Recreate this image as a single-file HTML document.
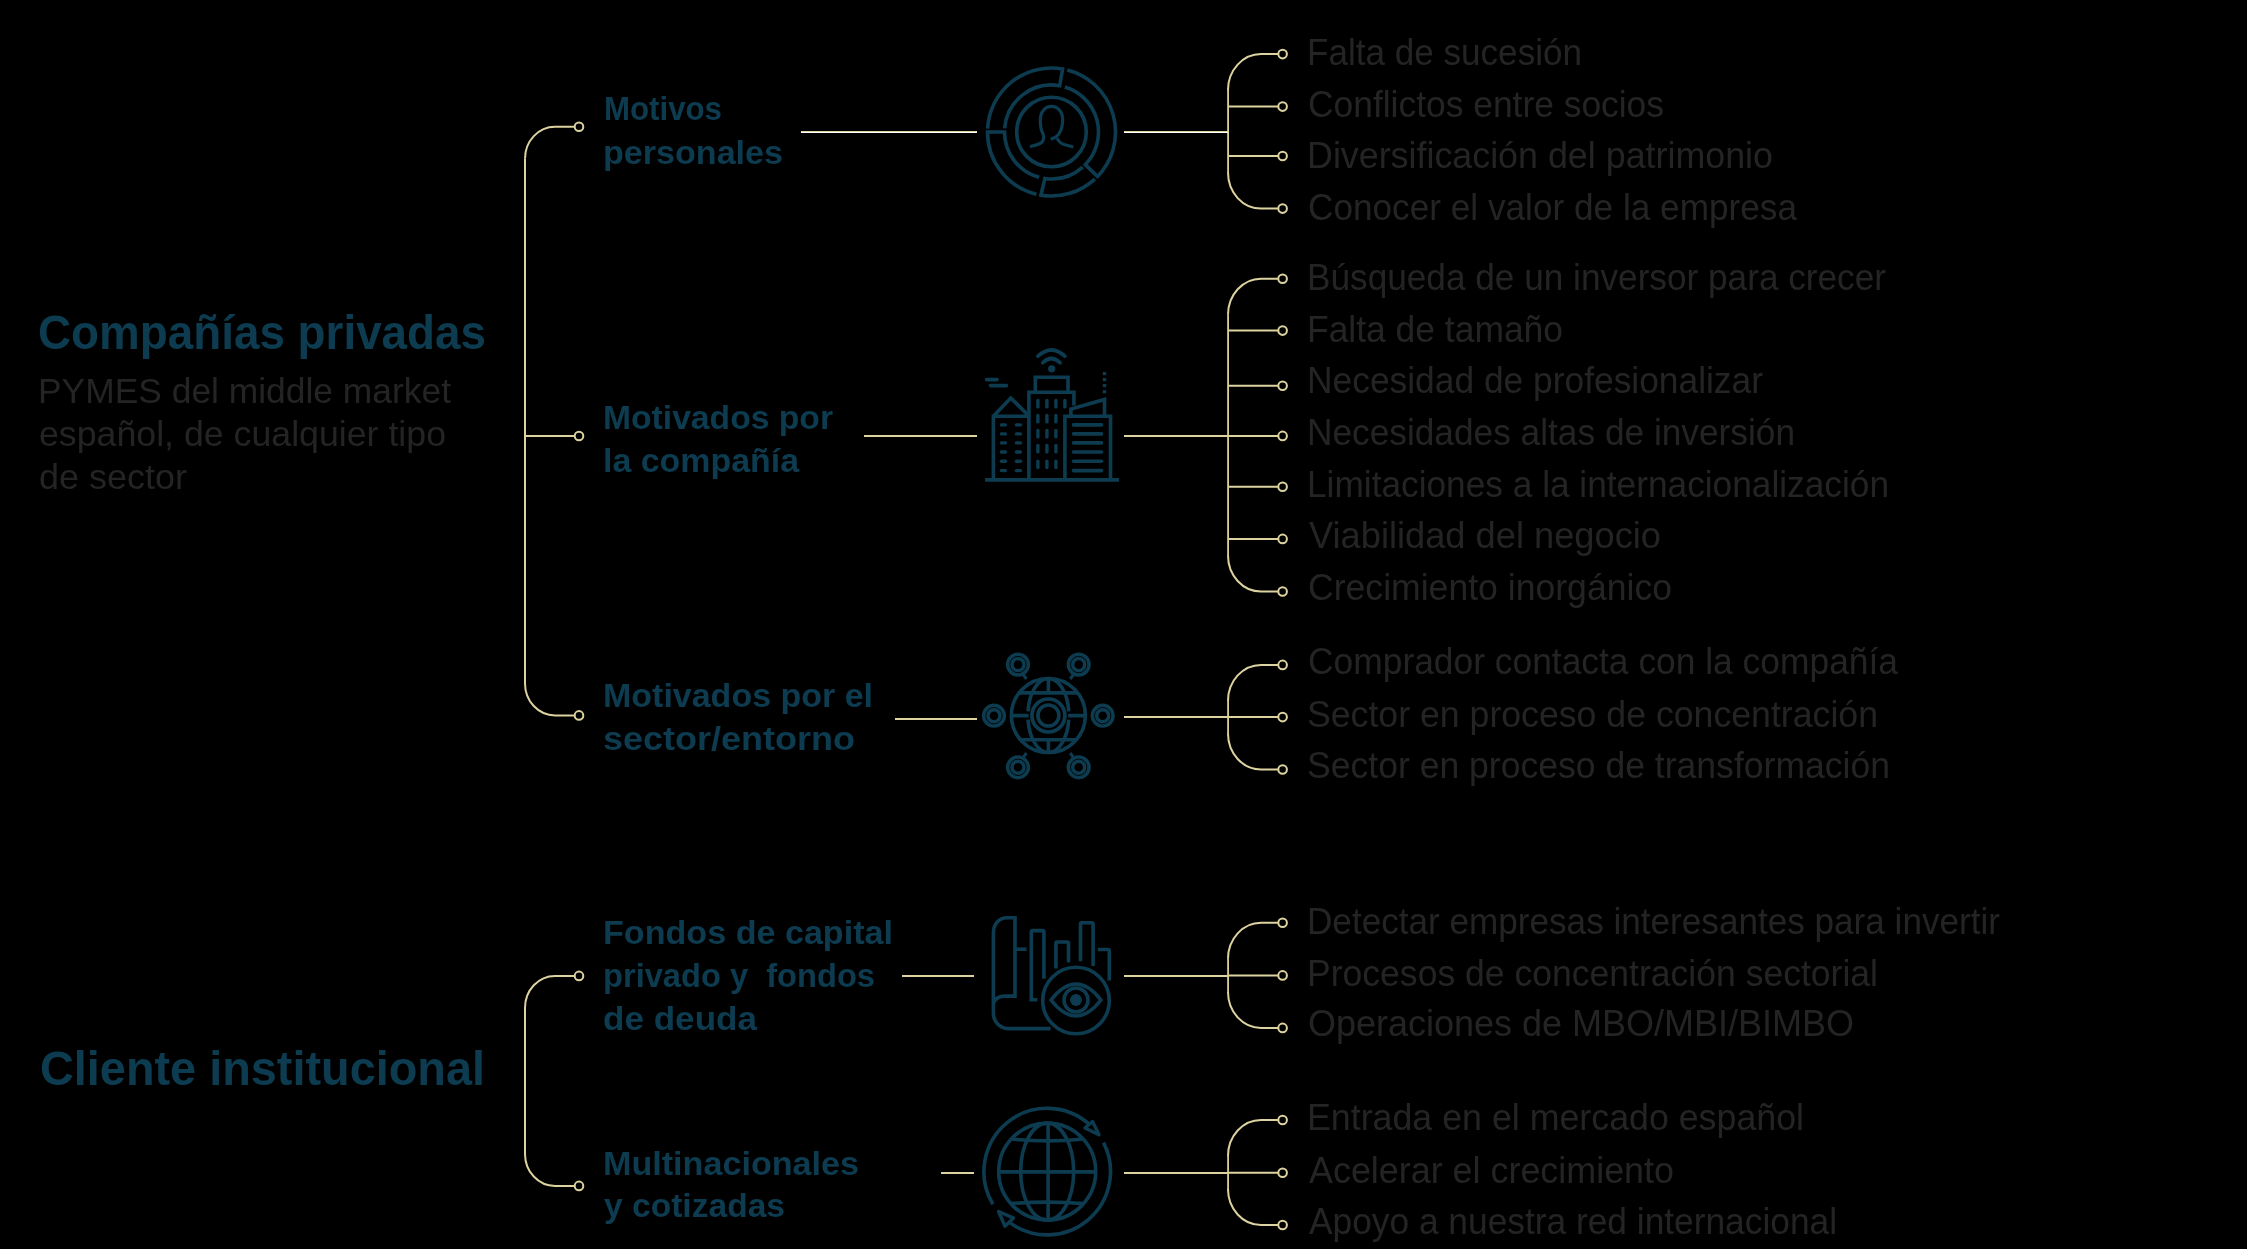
<!DOCTYPE html>
<html><head><meta charset="utf-8"><title>Compañías privadas</title>
<style>
html,body{margin:0;padding:0;background:#000;}
body{width:2247px;height:1249px;overflow:hidden;position:relative;}
svg{position:absolute;left:0;top:0;will-change:transform;}
text{font-family:"Liberation Sans",sans-serif;white-space:pre;}
</style></head><body>
<svg width="2247" height="1249" viewBox="0 0 2247 1249">
<rect width="2247" height="1249" fill="#000"/>
<g>
<path d="M525,158.8 C525,141.13 538.43,126.8 555,126.8 H574.7 " fill="none" stroke="#dcd3a0" stroke-width="2"/>
<path d="M525,158.8 V683.4 C525,701.07 538.43,715.4 555,715.4 H574.7" fill="none" stroke="#dcd3a0" stroke-width="2"/>
<path d="M525,436 H574.7" stroke="#dcd3a0" stroke-width="2"/>
<circle cx="579" cy="126.8" r="4.3" fill="none" stroke="#dcd3a0" stroke-width="2"/>
<circle cx="579" cy="436" r="4.3" fill="none" stroke="#dcd3a0" stroke-width="2"/>
<circle cx="579" cy="715.4" r="4.3" fill="none" stroke="#dcd3a0" stroke-width="2"/>
<path d="M525,1007.9 C525,990.23 538.43,975.9 555,975.9 H574.7 " fill="none" stroke="#dcd3a0" stroke-width="2"/>
<path d="M525,1007.9 V1153.9 C525,1171.57 538.43,1185.9 555,1185.9 H574.7" fill="none" stroke="#dcd3a0" stroke-width="2"/>
<circle cx="579" cy="975.9" r="4.3" fill="none" stroke="#dcd3a0" stroke-width="2"/>
<circle cx="579" cy="1185.9" r="4.3" fill="none" stroke="#dcd3a0" stroke-width="2"/>
<path d="M1228,90.1 C1228,70.22 1242.77,54.1 1261,54.1 H1278.3 " fill="none" stroke="#dcd3a0" stroke-width="2"/>
<path d="M1228,90.1 V172.6 C1228,192.48 1242.77,208.6 1261,208.6 H1278.3" fill="none" stroke="#dcd3a0" stroke-width="2"/>
<path d="M1228,106.6 H1278.3" stroke="#dcd3a0" stroke-width="2"/>
<path d="M1228,156 H1278.3" stroke="#dcd3a0" stroke-width="2"/>
<circle cx="1282.6" cy="54.1" r="4.3" fill="none" stroke="#dcd3a0" stroke-width="2"/>
<circle cx="1282.6" cy="106.6" r="4.3" fill="none" stroke="#dcd3a0" stroke-width="2"/>
<circle cx="1282.6" cy="156" r="4.3" fill="none" stroke="#dcd3a0" stroke-width="2"/>
<circle cx="1282.6" cy="208.6" r="4.3" fill="none" stroke="#dcd3a0" stroke-width="2"/>
<rect x="1227" y="90.1" width="1" height="82.5" fill="#fc8484"/>
<rect x="1228" y="90.1" width="1" height="82.5" fill="#d8cd96"/>
<path d="M1124,132 H1228" stroke="#dcd3a0" stroke-width="2"/>
<path d="M1228,314.7 C1228,294.82 1242.77,278.7 1261,278.7 H1278.3 " fill="none" stroke="#dcd3a0" stroke-width="2"/>
<path d="M1228,314.7 V555.5 C1228,575.38 1242.77,591.5 1261,591.5 H1278.3" fill="none" stroke="#dcd3a0" stroke-width="2"/>
<path d="M1228,330.6 H1278.3" stroke="#dcd3a0" stroke-width="2"/>
<path d="M1228,385.7 H1278.3" stroke="#dcd3a0" stroke-width="2"/>
<path d="M1228,435.9 H1278.3" stroke="#dcd3a0" stroke-width="2"/>
<path d="M1228,486.7 H1278.3" stroke="#dcd3a0" stroke-width="2"/>
<path d="M1228,538.9 H1278.3" stroke="#dcd3a0" stroke-width="2"/>
<circle cx="1282.6" cy="278.7" r="4.3" fill="none" stroke="#dcd3a0" stroke-width="2"/>
<circle cx="1282.6" cy="330.6" r="4.3" fill="none" stroke="#dcd3a0" stroke-width="2"/>
<circle cx="1282.6" cy="385.7" r="4.3" fill="none" stroke="#dcd3a0" stroke-width="2"/>
<circle cx="1282.6" cy="435.9" r="4.3" fill="none" stroke="#dcd3a0" stroke-width="2"/>
<circle cx="1282.6" cy="486.7" r="4.3" fill="none" stroke="#dcd3a0" stroke-width="2"/>
<circle cx="1282.6" cy="538.9" r="4.3" fill="none" stroke="#dcd3a0" stroke-width="2"/>
<circle cx="1282.6" cy="591.5" r="4.3" fill="none" stroke="#dcd3a0" stroke-width="2"/>
<rect x="1227" y="314.7" width="1" height="240.8" fill="#fc8484"/>
<rect x="1228" y="314.7" width="1" height="240.8" fill="#d8cd96"/>
<path d="M1124,436 H1228" stroke="#dcd3a0" stroke-width="2"/>
<path d="M1228,700.9 C1228,681.02 1242.77,664.9 1261,664.9 H1278.3 " fill="none" stroke="#dcd3a0" stroke-width="2"/>
<path d="M1228,700.9 V733.5 C1228,753.38 1242.77,769.5 1261,769.5 H1278.3" fill="none" stroke="#dcd3a0" stroke-width="2"/>
<path d="M1228,717.1 H1278.3" stroke="#dcd3a0" stroke-width="2"/>
<circle cx="1282.6" cy="664.9" r="4.3" fill="none" stroke="#dcd3a0" stroke-width="2"/>
<circle cx="1282.6" cy="717.1" r="4.3" fill="none" stroke="#dcd3a0" stroke-width="2"/>
<circle cx="1282.6" cy="769.5" r="4.3" fill="none" stroke="#dcd3a0" stroke-width="2"/>
<rect x="1227" y="700.9" width="1" height="32.6" fill="#fc8484"/>
<rect x="1228" y="700.9" width="1" height="32.6" fill="#d8cd96"/>
<path d="M1124,717 H1228" stroke="#dcd3a0" stroke-width="2"/>
<path d="M1228,958.8 C1228,938.92 1242.77,922.8 1261,922.8 H1278.3 " fill="none" stroke="#dcd3a0" stroke-width="2"/>
<path d="M1228,958.8 V991.9 C1228,1011.78 1242.77,1027.9 1261,1027.9 H1278.3" fill="none" stroke="#dcd3a0" stroke-width="2"/>
<path d="M1228,975.4 H1278.3" stroke="#dcd3a0" stroke-width="2"/>
<circle cx="1282.6" cy="922.8" r="4.3" fill="none" stroke="#dcd3a0" stroke-width="2"/>
<circle cx="1282.6" cy="975.4" r="4.3" fill="none" stroke="#dcd3a0" stroke-width="2"/>
<circle cx="1282.6" cy="1027.9" r="4.3" fill="none" stroke="#dcd3a0" stroke-width="2"/>
<rect x="1227" y="958.8" width="1" height="33.1" fill="#fc8484"/>
<rect x="1228" y="958.8" width="1" height="33.1" fill="#d8cd96"/>
<path d="M1124,976 H1228" stroke="#dcd3a0" stroke-width="2"/>
<path d="M1228,1156 C1228,1136.12 1242.77,1120 1261,1120 H1278.3 " fill="none" stroke="#dcd3a0" stroke-width="2"/>
<path d="M1228,1156 V1189 C1228,1208.88 1242.77,1225 1261,1225 H1278.3" fill="none" stroke="#dcd3a0" stroke-width="2"/>
<path d="M1228,1172.8 H1278.3" stroke="#dcd3a0" stroke-width="2"/>
<circle cx="1282.6" cy="1120" r="4.3" fill="none" stroke="#dcd3a0" stroke-width="2"/>
<circle cx="1282.6" cy="1172.8" r="4.3" fill="none" stroke="#dcd3a0" stroke-width="2"/>
<circle cx="1282.6" cy="1225" r="4.3" fill="none" stroke="#dcd3a0" stroke-width="2"/>
<rect x="1227" y="1156" width="1" height="33" fill="#fc8484"/>
<rect x="1228" y="1156" width="1" height="33" fill="#d8cd96"/>
<path d="M1124,1173 H1228" stroke="#dcd3a0" stroke-width="2"/>
</g>
<path d="M801,132 H977" stroke="#dcd3a0" stroke-width="2"/>
<path d="M864,436 H977" stroke="#dcd3a0" stroke-width="2"/>
<path d="M895,719 H977" stroke="#dcd3a0" stroke-width="2"/>
<path d="M902,976 H974" stroke="#dcd3a0" stroke-width="2"/>
<path d="M941,1173 H974" stroke="#dcd3a0" stroke-width="2"/>
<rect x="801" y="132" width="176" height="1" fill="#fff"/>
<rect x="1124" y="132" width="104" height="1" fill="#fff"/>
<g fill="none" stroke="#0d3c51" stroke-width="3.6">
<path d="M987.59,128.65 A64,64 0 0 1 1062.61,68.97 L1059.66,85.71 A47,47 0 0 0 1004.64,128.31" />
<path d="M1067.31,69.98 A64,64 0 0 1 1097.54,176.46 L1085.31,164.65 A47,47 0 0 0 1064.85,86.94" />
<path d="M1094.82,179.11 A64,64 0 0 1 1040.94,195.12 L1044.88,178.53 A47,47 0 0 0 1082.7,167.15" />
<path d="M1036.45,194.21 A64,64 0 0 1 987.5,132 L1004.5,132 A47,47 0 0 0 1039.18,177.36" />
<circle cx="1051.5" cy="132" r="34.8"/>
<path d="M1030,146.6 C1036,145 1041,144.5 1042.8,141 C1044.5,137.5 1043.5,134.5 1042,131.5 C1040.5,128 1040.3,124 1040.3,120 C1040.3,112 1045,106.3 1051.5,106.3 C1058,106.3 1062.7,112 1062.7,120 C1062.7,126 1061,131 1058.3,134.6 C1056.5,137 1054,138.5 1050.6,139 M1057.3,138.2 C1058.5,141.5 1060,143 1064,144.5 L1073.3,147" stroke-width="3.2"/>
<path d="M985,479.9 H1119" />
<path d="M993.4,479.9 V416.3 H1028.9 M993.4,416.3 L1010.8,398 L1027,414" />
<path d="M1028.9,479.9 V392.2 H1073.9 V405.5 M1064.9,479.9 V416.3 H1110.5 V479.9" />
<path d="M1035.3,392.2 V377.2 H1068 V392.2" />
<path d="M1070.9,416.3 V409.1 L1104.5,399.5 V416.3" />
<circle cx="1051.7" cy="368.8" r="3.6" fill="#0d3c51" stroke="none"/>
<path d="M1042.7,362.8 Q1051.4,354.2 1060.1,362.8 M1037.9,356.2 Q1051.4,343.8 1064.9,356.2" stroke-linecap="round"/>
<rect x="1102.8" y="372" width="3.4" height="3.2" fill="#0d3c51" stroke="none"/>
<rect x="1102.8" y="378" width="3.4" height="3.2" fill="#0d3c51" stroke="none"/>
<rect x="1102.8" y="384" width="3.4" height="3.2" fill="#0d3c51" stroke="none"/>
<rect x="1102.8" y="390.1" width="3.4" height="3.2" fill="#0d3c51" stroke="none"/>
<path d="M986.5,379.6 H997 M990.5,385.6 H1006.5" stroke-linecap="round"/>
<path d="M1001.4,424.9 H1005.4" stroke-linecap="round" stroke-width="3.4"/>
<path d="M1016.4,424.9 H1020.4" stroke-linecap="round" stroke-width="3.4"/>
<path d="M1073.5,424.9 H1101.5" stroke-linecap="round" stroke-width="3.6"/>
<path d="M1001.4,433.9 H1005.4" stroke-linecap="round" stroke-width="3.4"/>
<path d="M1016.4,433.9 H1020.4" stroke-linecap="round" stroke-width="3.4"/>
<path d="M1073.5,433.9 H1101.5" stroke-linecap="round" stroke-width="3.6"/>
<path d="M1001.4,442.9 H1005.4" stroke-linecap="round" stroke-width="3.4"/>
<path d="M1016.4,442.9 H1020.4" stroke-linecap="round" stroke-width="3.4"/>
<path d="M1073.5,442.9 H1101.5" stroke-linecap="round" stroke-width="3.6"/>
<path d="M1001.4,452 H1005.4" stroke-linecap="round" stroke-width="3.4"/>
<path d="M1016.4,452 H1020.4" stroke-linecap="round" stroke-width="3.4"/>
<path d="M1073.5,452 H1101.5" stroke-linecap="round" stroke-width="3.6"/>
<path d="M1001.4,461.3 H1005.4" stroke-linecap="round" stroke-width="3.4"/>
<path d="M1016.4,461.3 H1020.4" stroke-linecap="round" stroke-width="3.4"/>
<path d="M1073.5,461.3 H1101.5" stroke-linecap="round" stroke-width="3.6"/>
<path d="M1001.4,470.6 H1005.4" stroke-linecap="round" stroke-width="3.4"/>
<path d="M1016.4,470.6 H1020.4" stroke-linecap="round" stroke-width="3.4"/>
<path d="M1073.5,470.6 H1101.5" stroke-linecap="round" stroke-width="3.6"/>
<path d="M1037.9,400.5 V406.9" stroke-linecap="round" stroke-width="3.4"/>
<path d="M1046.9,400.5 V406.9" stroke-linecap="round" stroke-width="3.4"/>
<path d="M1055.9,400.5 V406.9" stroke-linecap="round" stroke-width="3.4"/>
<path d="M1064.9,400.5 V406.9" stroke-linecap="round" stroke-width="3.4"/>
<path d="M1037.9,415.5 V421.9" stroke-linecap="round" stroke-width="3.4"/>
<path d="M1046.9,415.5 V421.9" stroke-linecap="round" stroke-width="3.4"/>
<path d="M1055.9,415.5 V421.9" stroke-linecap="round" stroke-width="3.4"/>
<path d="M1037.9,430.5 V436.9" stroke-linecap="round" stroke-width="3.4"/>
<path d="M1046.9,430.5 V436.9" stroke-linecap="round" stroke-width="3.4"/>
<path d="M1055.9,430.5 V436.9" stroke-linecap="round" stroke-width="3.4"/>
<path d="M1037.9,445.5 V451.9" stroke-linecap="round" stroke-width="3.4"/>
<path d="M1046.9,445.5 V451.9" stroke-linecap="round" stroke-width="3.4"/>
<path d="M1055.9,445.5 V451.9" stroke-linecap="round" stroke-width="3.4"/>
<path d="M1037.9,461.1 V467.5" stroke-linecap="round" stroke-width="3.4"/>
<path d="M1046.9,461.1 V467.5" stroke-linecap="round" stroke-width="3.4"/>
<path d="M1055.9,461.1 V467.5" stroke-linecap="round" stroke-width="3.4"/>
<circle cx="1048.4" cy="715.5" r="37"/>
<path d="M1068.77,719.69 A20.5,37 0 0 1 1028.03,719.69 M1028.03,711.31 A20.5,37 0 0 1 1068.77,711.31" />
<path d="M1019.1,692.9 H1077.7 M1020.41,739.7 H1076.39" />
<path d="M1048.4,678.5 V692.9 M1048.4,739.7 V752.5" />
<path d="M1011.4,715.6 H1028.6 M1068.2,715.6 H1085.4" />
<circle cx="1048.4" cy="715.5" r="16.5" stroke-width="3.7"/>
<circle cx="1048.4" cy="715.5" r="10.5"/>
<circle cx="1018" cy="664.6" r="8.2" stroke-width="7.8"/>
<circle cx="1018" cy="664.6" r="8.2" stroke="#000" stroke-width="0.9"/>
<circle cx="1078.7" cy="664.6" r="8.2" stroke-width="7.8"/>
<circle cx="1078.7" cy="664.6" r="8.2" stroke="#000" stroke-width="0.9"/>
<circle cx="994" cy="715.7" r="8.2" stroke-width="7.8"/>
<circle cx="994" cy="715.7" r="8.2" stroke="#000" stroke-width="0.9"/>
<circle cx="1102.7" cy="715.7" r="8.2" stroke-width="7.8"/>
<circle cx="1102.7" cy="715.7" r="8.2" stroke="#000" stroke-width="0.9"/>
<circle cx="1018" cy="767.3" r="8.2" stroke-width="7.8"/>
<circle cx="1018" cy="767.3" r="8.2" stroke="#000" stroke-width="0.9"/>
<circle cx="1078.7" cy="767.3" r="8.2" stroke-width="7.8"/>
<circle cx="1078.7" cy="767.3" r="8.2" stroke="#000" stroke-width="0.9"/>
<path d="M1023.5,675 L1026.5,679 M1073.2,675 L1070.2,679 M1023.5,757 L1026.5,753 M1073.2,757 L1070.2,753" stroke-width="3"/>
<path d="M1050.5,1028.6 H1009.6 C1000,1028.6 993.4,1022 993.4,1013 V933 C993.4,924 999,917.8 1007,917.8 H1015 V996.1 H1005 C999,996.1 995,999 993.4,1003" />
<path d="M1015,949.2 H1026.5" />
<path d="M1037.3,999.7 H1031.3 V932 Q1031.3,930.6 1033,930.6 H1042.4 Q1043.9,930.6 1043.9,932 V978.7" />
<path d="M1055.9,968.5 V943.5 Q1055.9,942 1057.5,942 H1067 Q1068.5,942 1068.5,943.5 V962.5" />
<path d="M1080.5,961.3 V924.3 Q1080.5,922.8 1082,922.8 H1091.6 Q1093.1,922.8 1093.1,924.3 V966.1" />
<path d="M1097.9,949.5 H1107.8 Q1109.3,949.5 1109.3,951 V980.5" />
<circle cx="1076" cy="1000.5" r="33.3"/>
<path d="M1051,1000 C1060,988.5 1068,984 1076,984 C1084,984 1092,988.5 1101,1000 C1092,1011.5 1084,1016 1076,1016 C1068,1016 1060,1011.5 1051,1000 Z" stroke-linejoin="round"/>
<circle cx="1076" cy="1000" r="12"/>
<circle cx="1076" cy="1000" r="5.9" fill="#0d3c51" stroke="none"/>
<circle cx="1047.2" cy="1171.6" r="48.5"/>
<ellipse cx="1047.2" cy="1171.6" rx="26.5" ry="48.5"/>
<path d="M1048.1,1123.1 V1220.1" />
<path d="M1011.29,1139 Q1047.2,1142.8 1083.11,1139 M998.7,1171.9 H1095.7 M1010.75,1203.6 Q1047.2,1200.6 1083.65,1203.6" />
<path d="M992.94,1204.2 A63.3,63.3 0 0 1 1090.05,1125.01" />
<path d="M1103.5,1142.67 A63.3,63.3 0 0 1 1009.46,1222.42" />
<path d="M1085,1128 L1092.5,1121.5 L1099,1134.8 Z" stroke-linejoin="round" stroke-width="3.4"/>
<path d="M998.6,1211.5 L1013.6,1218.1 L1005,1226.2 Z" stroke-linejoin="round" stroke-width="3.4"/>
</g>
<text x="38" y="348.6" font-size="48" font-weight="700" fill="#0d3c51" textLength="448" lengthAdjust="spacingAndGlyphs">Compañías privadas</text>
<text x="40" y="1084.8" font-size="48" font-weight="700" fill="#0d3c51" textLength="445" lengthAdjust="spacingAndGlyphs">Cliente institucional</text>
<text x="38" y="402.9" font-size="35" font-weight="400" fill="#242424" textLength="413" lengthAdjust="spacingAndGlyphs">PYMES del middle market</text>
<text x="39" y="445.7" font-size="35" font-weight="400" fill="#242424" textLength="407" lengthAdjust="spacingAndGlyphs">español, de cualquier tipo</text>
<text x="39" y="488.5" font-size="35" font-weight="400" fill="#242424" textLength="148" lengthAdjust="spacingAndGlyphs">de sector</text>
<text x="604" y="119.7" font-size="34" font-weight="700" fill="#0d3c51" textLength="118" lengthAdjust="spacingAndGlyphs">Motivos</text>
<text x="603" y="164.4" font-size="34" font-weight="700" fill="#0d3c51" textLength="180" lengthAdjust="spacingAndGlyphs">personales</text>
<text x="603" y="429" font-size="34" font-weight="700" fill="#0d3c51" textLength="230" lengthAdjust="spacingAndGlyphs">Motivados por</text>
<text x="603" y="471.7" font-size="34" font-weight="700" fill="#0d3c51" textLength="196" lengthAdjust="spacingAndGlyphs">la compañía</text>
<text x="603" y="706.8" font-size="34" font-weight="700" fill="#0d3c51" textLength="270" lengthAdjust="spacingAndGlyphs">Motivados por el</text>
<text x="603" y="749.6" font-size="34" font-weight="700" fill="#0d3c51" textLength="252" lengthAdjust="spacingAndGlyphs">sector/entorno</text>
<text x="603" y="943.6" font-size="34" font-weight="700" fill="#0d3c51" textLength="290" lengthAdjust="spacingAndGlyphs">Fondos de capital</text>
<text x="603" y="986.6" font-size="34" font-weight="700" fill="#0d3c51" textLength="272" lengthAdjust="spacingAndGlyphs">privado y  fondos</text>
<text x="603" y="1029.6" font-size="34" font-weight="700" fill="#0d3c51" textLength="154" lengthAdjust="spacingAndGlyphs">de deuda</text>
<text x="603" y="1174.5" font-size="34" font-weight="700" fill="#0d3c51" textLength="256" lengthAdjust="spacingAndGlyphs">Multinacionales</text>
<text x="604" y="1217.2" font-size="34" font-weight="700" fill="#0d3c51" textLength="181" lengthAdjust="spacingAndGlyphs">y cotizadas</text>
<text x="1307" y="64.8" font-size="36.5" font-weight="400" fill="#242424" textLength="275" lengthAdjust="spacingAndGlyphs">Falta de sucesión</text>
<text x="1308" y="116.5" font-size="36.5" font-weight="400" fill="#242424" textLength="356" lengthAdjust="spacingAndGlyphs">Conflictos entre socios</text>
<text x="1307" y="168.2" font-size="36.5" font-weight="400" fill="#242424" textLength="466" lengthAdjust="spacingAndGlyphs">Diversificación del patrimonio</text>
<text x="1308" y="219.9" font-size="36.5" font-weight="400" fill="#242424" textLength="489" lengthAdjust="spacingAndGlyphs">Conocer el valor de la empresa</text>
<text x="1307" y="289.8" font-size="36.5" font-weight="400" fill="#242424" textLength="579" lengthAdjust="spacingAndGlyphs">Búsqueda de un inversor para crecer</text>
<text x="1307" y="341.7" font-size="36.5" font-weight="400" fill="#242424" textLength="256" lengthAdjust="spacingAndGlyphs">Falta de tamaño</text>
<text x="1307" y="393.3" font-size="36.5" font-weight="400" fill="#242424" textLength="456" lengthAdjust="spacingAndGlyphs">Necesidad de profesionalizar</text>
<text x="1307" y="445.2" font-size="36.5" font-weight="400" fill="#242424" textLength="488" lengthAdjust="spacingAndGlyphs">Necesidades altas de inversión</text>
<text x="1307" y="496.5" font-size="36.5" font-weight="400" fill="#242424" textLength="582" lengthAdjust="spacingAndGlyphs">Limitaciones a la internacionalización</text>
<text x="1309" y="548.4" font-size="36.5" font-weight="400" fill="#242424" textLength="352" lengthAdjust="spacingAndGlyphs">Viabilidad del negocio</text>
<text x="1308" y="599.7" font-size="36.5" font-weight="400" fill="#242424" textLength="364" lengthAdjust="spacingAndGlyphs">Crecimiento inorgánico</text>
<text x="1308" y="674.3" font-size="36.5" font-weight="400" fill="#242424" textLength="590" lengthAdjust="spacingAndGlyphs">Comprador contacta con la compañía</text>
<text x="1307" y="726.5" font-size="36.5" font-weight="400" fill="#242424" textLength="571" lengthAdjust="spacingAndGlyphs">Sector en proceso de concentración</text>
<text x="1307" y="778.4" font-size="36.5" font-weight="400" fill="#242424" textLength="583" lengthAdjust="spacingAndGlyphs">Sector en proceso de transformación</text>
<text x="1307" y="933.6" font-size="36.5" font-weight="400" fill="#242424" textLength="693" lengthAdjust="spacingAndGlyphs">Detectar empresas interesantes para invertir</text>
<text x="1307" y="985.5" font-size="36.5" font-weight="400" fill="#242424" textLength="571" lengthAdjust="spacingAndGlyphs">Procesos de concentración sectorial</text>
<text x="1308" y="1036.2" font-size="36.5" font-weight="400" fill="#242424" textLength="546" lengthAdjust="spacingAndGlyphs">Operaciones de MBO/MBI/BIMBO</text>
<text x="1307" y="1130.2" font-size="36.5" font-weight="400" fill="#242424" textLength="497" lengthAdjust="spacingAndGlyphs">Entrada en el mercado español</text>
<text x="1309" y="1182.5" font-size="36.5" font-weight="400" fill="#242424" textLength="365" lengthAdjust="spacingAndGlyphs">Acelerar el crecimiento</text>
<text x="1309" y="1234.4" font-size="36.5" font-weight="400" fill="#242424" textLength="528" lengthAdjust="spacingAndGlyphs">Apoyo a nuestra red internacional</text>
</svg>
</body></html>
